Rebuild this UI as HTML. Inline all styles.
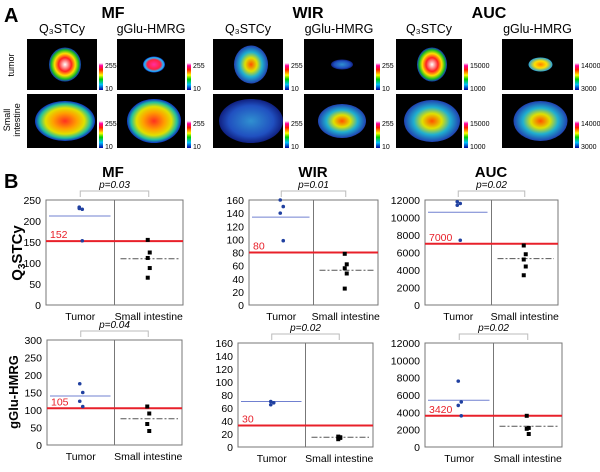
<!DOCTYPE html>
<html><head><meta charset="utf-8"><style>
html,body{margin:0;padding:0;background:#fff;}
svg{display:block;font-family:"Liberation Sans",sans-serif;}
</style></head><body>
<svg id="fig" width="600" height="472" viewBox="0 0 600 472">
<defs>
<linearGradient id="cbar" x1="0" y1="1" x2="0" y2="0">
<stop offset="0" stop-color="#0000a0"/><stop offset="0.2" stop-color="#00c0ff"/><stop offset="0.4" stop-color="#00d000"/><stop offset="0.55" stop-color="#ffff00"/><stop offset="0.75" stop-color="#ff2000"/><stop offset="0.9" stop-color="#ff00a0"/><stop offset="1" stop-color="#ffffff"/>
</linearGradient>
<radialGradient id="hot"><stop offset="0" stop-color="#fff"/><stop offset="0.4" stop-color="#ff2020"/><stop offset="0.65" stop-color="#ffe000"/><stop offset="0.85" stop-color="#20c020"/><stop offset="1" stop-color="#1030c0"/></radialGradient>
<radialGradient id="warm"><stop offset="0" stop-color="#ff3020"/><stop offset="0.4" stop-color="#ffa000"/><stop offset="0.65" stop-color="#e0e000"/><stop offset="0.85" stop-color="#20c0a0"/><stop offset="1" stop-color="#1030c0"/></radialGradient>
<radialGradient id="pink"><stop offset="0" stop-color="#ff30a0"/><stop offset="0.6" stop-color="#ff2040"/><stop offset="0.85" stop-color="#20c0ff"/><stop offset="1" stop-color="#1030c0"/></radialGradient>
<radialGradient id="cool"><stop offset="0" stop-color="#3090d0"/><stop offset="0.7" stop-color="#2050c0"/><stop offset="1" stop-color="#102080"/></radialGradient>
<radialGradient id="mid"><stop offset="0" stop-color="#ff5000"/><stop offset="0.35" stop-color="#e0e000"/><stop offset="0.65" stop-color="#20b0d0"/><stop offset="1" stop-color="#2040b0"/></radialGradient>
<radialGradient id="yel"><stop offset="0" stop-color="#ff8000"/><stop offset="0.5" stop-color="#ffe000"/><stop offset="1" stop-color="#20a0e0"/></radialGradient>
</defs>
<g id="panelA"></g>
<g id="panelB"></g>
</svg>
<script>
// ---- Chart data ----
const groupLabels = ["Tumor", "Small intestine"];
const mfQ3Tumor = [233, 228, 230, 153];
const mfQ3Small = [155, 125, 112, 88, 65];
const mfQ3Means = [212, 110];
const mfQ3Cut = 152;
const wirQ3Tumor = [160, 150, 140, 98];
const wirQ3Small = [78, 62, 56, 48, 25];
const wirQ3Means = [134, 53];
const wirQ3Cut = 80;
const aucQ3Tumor = [11800, 11600, 11400, 7400];
const aucQ3Small = [6800, 5800, 5200, 4400, 3400];
const aucQ3Means = [10600, 5300];
const aucQ3Cut = 7000;
const mfGTumor = [175, 150, 125, 110];
const mfGSmall = [110, 90, 60, 40];
const mfGMeans = [140, 75];
const mfGCut = 105;
const wirGTumor = [70, 68, 65];
const wirGSmall = [16, 14, 12, 15];
const wirGMeans = [70, 15];
const wirGCut = 33;
const aucGTumor = [7600, 5200, 4800, 3600];
const aucGSmall = [3600, 2200, 2100, 1500];
const aucGMeans = [5400, 2400];
const aucGCut = 3600;
const cutLabels = ["152", "80", "7000", "105", "30", "3420"];
const pValues = ["p=0.03", "p=0.01", "p=0.02", "p=0.04", "p=0.02", "p=0.02"];
const ticks250 = [0, 50, 100, 150, 200, 250];
const ticks300 = [0, 50, 100, 150, 200, 250, 300];
const ticks160 = [0, 20, 40, 60, 80, 100, 120, 140, 160];
const ticks12000 = [0, 2000, 4000, 6000, 8000, 10000, 12000];

const NS = "http://www.w3.org/2000/svg";
function mk(tag, attrs, parent, text) {
  const e = document.createElementNS(NS, tag);
  for (const k in attrs) e.setAttribute(k, attrs[k]);
  if (text !== undefined) e.textContent = text;
  parent.appendChild(e);
  return e;
}
const A = document.getElementById('panelA');
const B = document.getElementById('panelB');

// ---- Panel A ----
let t = mk('text', {x: 4, y: 22, 'font-size': 20, 'font-weight': 'bold'}, A, 'A');


const secs = [["MF", 113], ["WIR", 308], ["AUC", 489]];
secs.forEach(s => {
  const e = mk('text', {x: s[1], y: 18, 'font-size': 16, 'font-weight': 'bold', 'text-anchor': 'middle'}, A, s[0]);
  
  
});
const imgs = [
  {x: 27, w: 70, lab: "Q₃STCy", c: ["hot", "warm"], r: ["255", "10"]},
  {x: 117, w: 68, lab: "gGlu-HMRG", c: ["pink", "warm"], r: ["255", "10"]},
  {x: 213, w: 70, lab: "Q₃STCy", c: ["mid", "cool"], r: ["255", "10"]},
  {x: 304, w: 70, lab: "gGlu-HMRG", c: ["cool", "mid"], r: ["255", "10"]},
  {x: 396, w: 66, lab: "Q₃STCy", c: ["hot", "mid"], r: ["15000", "1000"]},
  {x: 502, w: 71, lab: "gGlu-HMRG", c: ["yel", "mid"], r: ["14000", "3000"]}
];
const rowsY = [[39, 90], [94, 148]];
const blobs = [[[16, 17], [30, 20]], [[11, 8], [27, 22]], [[17, 19], [32, 22]], [[11, 5], [24, 17]], [[15, 17], [28, 21]], [[12, 7], [27, 20]]];
imgs.forEach((im, i) => {
  const lt = mk('text', {x: im.x + im.w / 2, y: 33, 'font-size': 12.5, 'text-anchor': 'middle'}, A, im.lab);
  
  
  rowsY.forEach((yy, r) => {
    const y = yy[0], h = yy[1] - yy[0];
    const rect = mk('rect', {x: im.x, y: y, width: im.w, height: h, fill: '#000'}, A);
    
    
    const b = blobs[i][r];
    mk('ellipse', {cx: im.x + im.w / 2 + 3, cy: y + h / 2, rx: b[0], ry: b[1], fill: 'url(#' + im.c[r] + ')'}, A);
    const cb = mk('rect', {x: im.x + im.w + 2, y: yy[1] - 27, width: 4, height: 27, fill: 'url(#cbar)'}, A);
    
    
    mk('text', {x: im.x + im.w + 8, y: yy[1] - 22, 'font-size': 7}, A, im.r[0]);
    mk('text', {x: im.x + im.w + 8, y: yy[1] + 1, 'font-size': 7}, A, im.r[1]);
  });
});
t = mk('text', {x: 14, y: 65, 'font-size': 9, 'text-anchor': 'middle', transform: 'rotate(-90 14 65)'}, A, 'tumor');


t = mk('text', {x: 10, y: 120, 'font-size': 9, 'text-anchor': 'middle', transform: 'rotate(-90 10 120)'}, A, 'Small');


t = mk('text', {x: 20, y: 120, 'font-size': 9, 'text-anchor': 'middle', transform: 'rotate(-90 20 120)'}, A, 'intestine');



// ---- Panel B ----
t = mk('text', {x: 4, y: 188, 'font-size': 20, 'font-weight': 'bold'}, B, 'B');


[["MF", 113], ["WIR", 313], ["AUC", 491]].forEach(s => {
  const e = mk('text', {x: s[1], y: 177, 'font-size': 15, 'font-weight': 'bold', 'text-anchor': 'middle'}, B, s[0]);
  
  
});
t = mk('text', {x: 22, y: 253, 'font-size': 15, 'font-weight': 'bold', 'text-anchor': 'middle', transform: 'rotate(-90 22 253)'}, B);


t.innerHTML = 'Q<tspan font-size="10" dy="3">3</tspan><tspan dy="-3">STCy</tspan>';
t = mk('text', {x: 18, y: 392, 'font-size': 13, 'font-weight': 'bold', 'text-anchor': 'middle', transform: 'rotate(-90 18 392)'}, B, 'gGlu-HMRG');



const charts = [
  {L: 46, R: 183, T: 200, Bt: 305, max: 250, ticks: ticks250, tu: mfQ3Tumor, sm: mfQ3Small, mean: mfQ3Means, cut: mfQ3Cut, n: 'mf-q3stcy'},
  {L: 249, R: 378, T: 200, Bt: 305, max: 160, ticks: ticks160, tu: wirQ3Tumor, sm: wirQ3Small, mean: wirQ3Means, cut: wirQ3Cut, n: 'wir-q3stcy'},
  {L: 425, R: 558, T: 200, Bt: 305, max: 12000, ticks: ticks12000, tu: aucQ3Tumor, sm: aucQ3Small, mean: aucQ3Means, cut: aucQ3Cut, n: 'auc-q3stcy'},
  {L: 47, R: 182, T: 340, Bt: 445, max: 300, ticks: ticks300, tu: mfGTumor, sm: mfGSmall, mean: mfGMeans, cut: mfGCut, n: 'mf-gglu'},
  {L: 238, R: 373, T: 343, Bt: 447, max: 160, ticks: ticks160, tu: wirGTumor, sm: wirGSmall, mean: wirGMeans, cut: wirGCut, n: 'wir-gglu'},
  {L: 425, R: 562, T: 343, Bt: 447, max: 12000, ticks: ticks12000, tu: aucGTumor, sm: aucGSmall, mean: aucGMeans, cut: aucGCut, n: 'auc-gglu'}
];
charts.forEach((c, ci) => {
  const g = mk('g', {}, B);
  
  
  const y = v => c.Bt - v / c.max * (c.Bt - c.T);
  const mid = (c.L + c.R) / 2;
  const cx = [(c.L + mid) / 2, (mid + c.R) / 2];
  const box = mk('rect', {x: c.L, y: c.T, width: c.R - c.L, height: c.Bt - c.T, fill: 'none', stroke: '#777', 'stroke-width': 1}, g);
  
  
  mk('line', {x1: mid, x2: mid, y1: c.T, y2: c.Bt, stroke: '#777'}, g);
  c.ticks.forEach(v => {
    const tl = mk('text', {x: c.L - 5, y: y(v) + 4, 'font-size': 10.5, 'text-anchor': 'end'}, g, String(v));
    
    
  });
  groupLabels.forEach((lab, i) => {
    const xl = mk('text', {x: cx[i], y: c.Bt + 15, 'font-size': 10.5, 'text-anchor': 'middle'}, g, lab);
    
    
  });
  const br = mk('path', {d: `M${cx[0]} ${c.T - 3}V${c.T - 9}H${cx[1]}V${c.T - 3}`, fill: 'none', stroke: '#bbb'}, g);
  
  
  const pt = mk('text', {x: mid, y: c.T - 12, 'font-size': 10, 'font-style': 'italic', 'text-anchor': 'middle'}, g, pValues[ci]);
  
  
  const m1 = mk('line', {x1: c.L + 3, x2: mid - 4, y1: y(c.mean[0]), y2: y(c.mean[0]), stroke: '#7080d0', 'stroke-width': 1}, g);
  
  
  const m2 = mk('line', {x1: mid + 6, x2: c.R - 4, y1: y(c.mean[1]), y2: y(c.mean[1]), stroke: '#555', 'stroke-width': 1, 'stroke-dasharray': '6 2 2 2'}, g);
  
  
  const cl = mk('line', {x1: c.L, x2: c.R, y1: y(c.cut), y2: y(c.cut), stroke: '#e8202a', 'stroke-width': 2}, g);
  
  
  const ct = mk('text', {x: c.L + 4, y: y(c.cut) - 3, 'font-size': 10.5, fill: '#e8202a'}, g, cutLabels[ci]);
  
  
  c.tu.forEach((v, i) => {
    const p = mk('circle', {cx: cx[0] + (i % 2 ? 2 : -1), cy: y(v), r: 1.8, fill: '#2040a0'}, g);
    
    
  });
  c.sm.forEach((v, i) => {
    const p = mk('rect', {x: cx[1] - 2 + (i % 2 ? 1 : -1), y: y(v) - 2, width: 4, height: 4, fill: '#000'}, g);
    
    
  });
});
</script>
</body></html>
